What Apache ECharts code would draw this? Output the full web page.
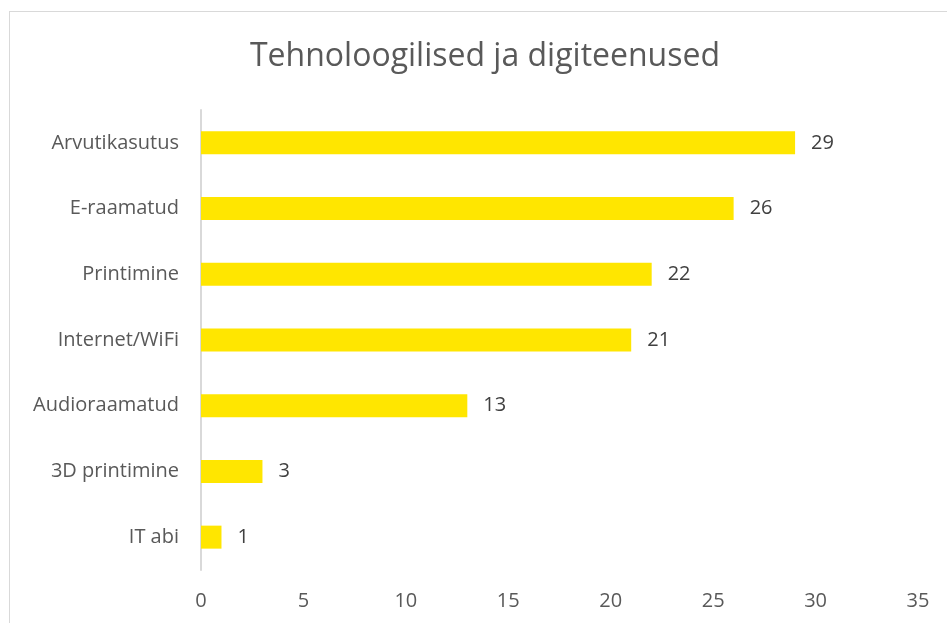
<!DOCTYPE html>
<html>
<head>
<meta charset="utf-8">
<script src="https://cdn.jsdelivr.net/npm/echarts@6/dist/echarts.min.js"></script>
<style>
    html, body { margin: 0; padding: 0; background: #fff; }
    #frame { position: absolute; left: 9px; top: 11px; width: 960px; height: 640px; border: 1px solid #d9d9d9; box-sizing: border-box; }
    #chart { position: absolute; left: 0; top: 0; width: 947px; height: 623px; }
</style>
</head>
<body>
<div id="frame"></div>
<div id="chart"></div>
<script>
const categories = ['Arvutikasutus', 'E-raamatud', 'Printimine', 'Internet/WiFi', 'Audioraamatud', '3D printimine', 'IT abi']
const values = [29, 26, 22, 21, 13, 3, 1]
const axisMax = 35
const axisStep = 5

const font = '"Open Sans", "Liberation Sans", sans-serif'
const textColor = '#595959'

let myChart = echarts.init(document.getElementById('chart'), null, { renderer: 'canvas' })
myChart.setOption({
    animation: false,
    title: {
        text: 'Tehnoloogilised ja digiteenused',
        left: 480,
        top: 36,
        textAlign: 'center',
        textStyle: { fontFamily: font, fontSize: 32, fontWeight: 'normal', color: textColor }
    },
    grid: { left: 201, right: 29, top: 110, bottom: 53, containLabel: false },
    xAxis: {
        type: 'value',
        min: 0,
        max: axisMax,
        interval: axisStep,
        axisLine: { show: false },
        axisTick: { show: false },
        splitLine: { show: false },
        axisLabel: { margin: 21, fontFamily: font, fontSize: 20, color: textColor }
    },
    yAxis: {
        type: 'category',
        data: categories,
        inverse: true,
        axisLine: { show: true, lineStyle: { color: '#d9d9d9', width: 2 } },
        axisTick: { show: false },
        axisLabel: { margin: 22, fontFamily: font, fontSize: 20, color: textColor }
    },
    series: [{
        type: 'bar',
        data: values,
        barWidth: '35%',
        itemStyle: { color: '#ffe600' },
        label: {
            show: true,
            position: 'right',
            distance: 16,
            fontFamily: font,
            fontSize: 20,
            color: '#404040'
        }
    }]
})
</script>
</body>
</html>
